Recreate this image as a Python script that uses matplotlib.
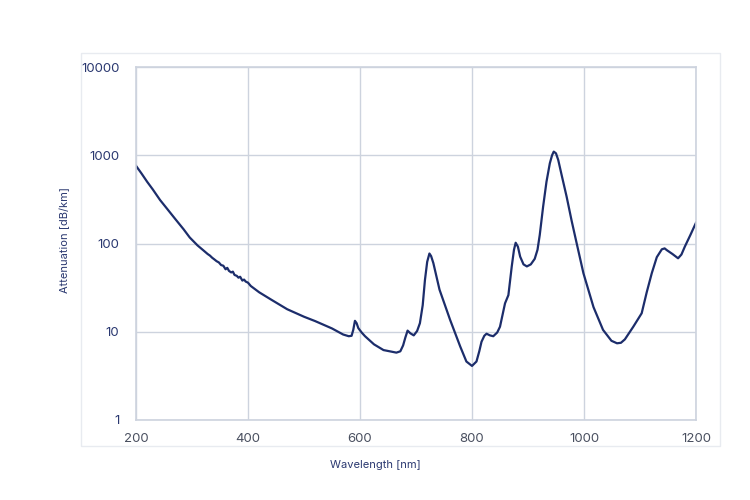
import matplotlib.pyplot as plt
from matplotlib.patches import Rectangle

longitud_onda = [
    200, 210, 220, 230, 243, 255, 270, 285, 296, 310, 320, 328, 332, 336,
    340, 344, 348, 352, 356, 360, 363, 366, 370, 373, 376, 380, 383, 386,
    390, 393, 396, 400, 405, 420, 442, 470, 500, 520, 550, 570, 580, 585,
    588, 591, 594, 597, 603, 609, 625, 642, 665, 672, 677, 681, 685, 690,
    696, 702, 707, 712, 716, 720, 724, 727, 731, 742, 761, 779, 790, 800,
    808, 813, 817, 822, 826, 832, 838, 845, 850, 859, 865, 871, 875, 878,
    882, 886, 892, 898, 905, 912, 917, 921, 927, 933, 939, 943, 946, 950,
    954, 960, 969, 978, 987, 999, 1017, 1034, 1049, 1059, 1066, 1073, 1088,
    1103, 1112, 1121, 1130, 1139, 1144, 1148, 1158, 1168, 1174, 1180, 1190,
    1200,
]
atenuacion = [
    760, 620, 500, 410, 311, 250, 190, 145, 117, 95, 84, 76, 73, 69,
    66, 63, 61, 57, 56, 51, 53, 49, 47, 48, 44, 43, 41, 42,
    38, 39, 37, 36, 33, 28, 23, 18, 14.8, 13.2, 10.9, 9.3, 8.9, 9.0,
    10.5, 13.3, 12.5, 11, 9.8, 8.9, 7.2, 6.2, 5.8, 6.0, 7.0, 8.6, 10.3, 9.6,
    9.1, 10.2, 12.5, 20, 38.6, 62, 77, 72, 60, 30, 13.6, 6.8, 4.6, 4.1,
    4.6, 6.0, 7.7, 9.0, 9.5, 9.1, 8.9, 9.8, 11.4, 21, 26, 55, 85, 102,
    92, 71, 58, 55, 58, 67, 85, 125, 261, 500, 811, 1000, 1100, 1050,
    884, 600, 339, 180, 100, 46, 19, 10.5, 7.9, 7.4, 7.5, 8.2, 11.4,
    16.2, 28, 46, 70, 86, 88, 84, 76, 68, 75, 92, 125,
    172,
]

ticks_x = [200, 400, 600, 800, 1000, 1200]
ticks_y = [1, 10, 100, 1000, 10000]

color_linea = "#1c2d6b"
color_rejilla = "#cdd3de"

plt.rcParams["font.family"] = ["Inter", "DejaVu Sans"]

fig = plt.figure(figsize=(7.5, 5), dpi=100)
ax = fig.add_axes([0.1813, 0.16, 0.7467, 0.706])

# Marco claro alrededor del grafico
fig.patches.append(Rectangle((0.108, 0.108), 0.852, 0.787, transform=fig.transFigure,
                             fill=False, edgecolor="#e8ebf0", linewidth=1.0))

ax.plot(longitud_onda, atenuacion, color=color_linea, linewidth=1.6)

ax.set_yscale("log")
ax.set_xlim(200, 1200)
ax.set_ylim(1, 10000)
ax.set_xticks(ticks_x)
ax.set_yticks(ticks_y)
ax.set_yticklabels([str(v) for v in ticks_y])
ax.minorticks_off()
ax.grid(True, color=color_rejilla, linewidth=1.0)
ax.set_axisbelow(True)

for lado in ["top", "right", "bottom", "left"]:
    ax.spines[lado].set_color(color_rejilla)
    ax.spines[lado].set_linewidth(1.2)

ax.tick_params(axis="both", length=0, labelsize=9.5)
ax.tick_params(axis="x", pad=9, labelcolor="#4a5060")
ax.tick_params(axis="y", pad=12, labelcolor="#2a3870")

ax.set_xlabel("Wavelength [nm]", fontsize=8, color="#2a3870")
ax.set_ylabel("Attenuation [dB/km]", fontsize=8, color="#2a3870")
ax.xaxis.set_label_coords(0.427, -0.112)
ax.yaxis.set_label_coords(-0.118, 0.51)

fig.savefig("out.png", dpi=100)
plt.close(fig)
